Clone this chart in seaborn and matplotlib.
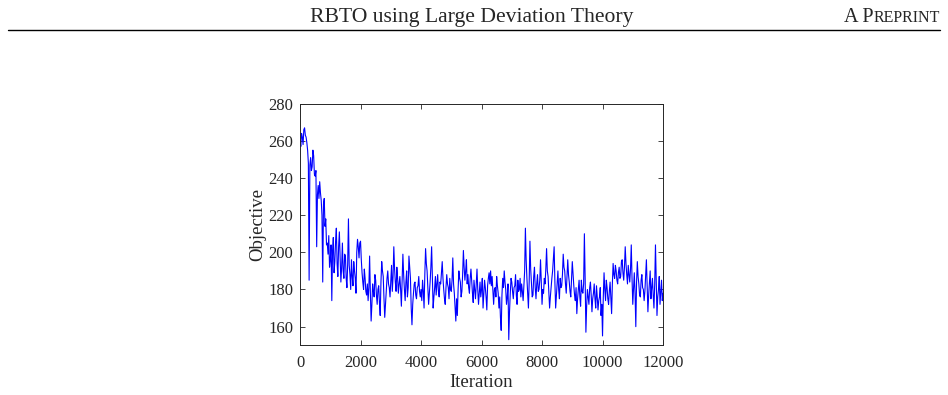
import numpy as np
import pandas as pd
import matplotlib
matplotlib.use("Agg")
import matplotlib.pyplot as plt
import seaborn as sns

# objective values, one every 25 iterations
obj_0_2000 = [260, 257, 264, 262, 258, 266, 267, 263, 262, 259,
              255, 248, 185, 247, 251, 244, 246, 255, 252, 242,
              241, 244, 203, 231, 236, 229, 238, 232, 228, 220,
              184, 226, 229, 214, 218, 204, 205, 199, 209, 192,
              196, 204, 174, 201, 208, 189, 195, 206, 213, 194,
              187, 203, 211, 197, 184, 192, 205, 190, 186, 199,
              198, 186, 181, 194, 218, 193, 188, 180, 196, 187,
              182, 195, 190, 186, 178, 200, 207, 203, 197, 205]
obj_2000_4000 = [206, 196, 189, 184, 180, 191, 186, 179, 177, 183,
                 174, 181, 198, 178, 163, 172, 183, 179, 176, 188,
                 185, 177, 172, 180, 182, 173, 166, 184, 195, 190,
                 187, 175, 165, 172, 178, 186, 190, 183, 181, 176,
                 185, 193, 179, 187, 203, 191, 184, 179, 192, 186,
                 178, 183, 187, 180, 171, 185, 199, 188, 180, 174,
                 184, 190, 176, 181, 198, 192, 186, 170, 161, 172,
                 178, 183, 184, 177, 175, 181, 182, 187, 179, 176]
obj_4000_6000 = [180, 174, 185, 179, 170, 188, 202, 194, 190, 181,
                 172, 178, 184, 192, 203, 186, 170, 176, 181, 187,
                 177, 183, 188, 179, 176, 184, 183, 189, 195, 186,
                 180, 175, 172, 181, 188, 183, 181, 175, 186, 180,
                 179, 185, 197, 183, 178, 170, 163, 175, 166, 180,
                 190, 186, 184, 176, 179, 188, 201, 192, 185, 190,
                 196, 183, 188, 181, 178, 186, 191, 184, 178, 173,
                 185, 180, 175, 183, 191, 180, 172, 178, 184, 176]
obj_6000_8000 = [180, 186, 170, 178, 185, 181, 176, 169, 182, 186,
                 189, 183, 190, 182, 187, 179, 172, 180, 181, 176,
                 187, 182, 178, 170, 176, 165, 158, 177, 186, 181,
                 190, 184, 180, 172, 176, 183, 153, 168, 178, 186,
                 184, 179, 175, 181, 182, 188, 177, 172, 185, 179,
                 180, 186, 176, 183, 179, 174, 182, 190, 213, 196,
                 186, 178, 170, 184, 206, 191, 184, 176, 177, 187,
                 192, 181, 175, 183, 188, 179, 180, 185, 196, 184]
obj_8000_10000 = [172, 180, 178, 186, 183, 191, 202, 190, 187, 178,
                  170, 176, 181, 186, 190, 197, 203, 184, 170, 177,
                  184, 190, 180, 175, 186, 181, 182, 188, 199, 192,
                  190, 183, 178, 187, 196, 188, 184, 179, 176, 185,
                  195, 188, 182, 177, 174, 181, 167, 175, 180, 185,
                  176, 171, 185, 179, 178, 183, 210, 186, 157, 171,
                  180, 176, 172, 181, 184, 177, 168, 175, 178, 183,
                  175, 170, 182, 176, 169, 174, 176, 181, 166, 172]
obj_10000_12000 = [155, 176, 189, 180, 174, 185, 181, 175, 172, 179,
                   184, 176, 167, 183, 194, 188, 186, 193, 190, 185,
                   183, 189, 192, 186, 187, 195, 196, 189, 185, 192,
                   203, 194, 188, 183, 193, 188, 184, 191, 204, 186,
                   172, 181, 189, 178, 160, 184, 195, 187, 183, 177,
                   176, 185, 188, 181, 180, 174, 179, 188, 196, 182,
                   168, 177, 184, 190, 175, 181, 186, 177, 170, 183,
                   204, 185, 166, 176, 180, 187, 172, 179, 185, 174,
                   178]

objective = (obj_0_2000 + obj_2000_4000 + obj_4000_6000 + obj_6000_8000
             + obj_8000_10000 + obj_10000_12000)
iteration = list(range(0, 12001, 25))

x_ticks = [0, 2000, 4000, 6000, 8000, 10000, 12000]
y_ticks = [160, 180, 200, 220, 240, 260, 280]

header_title = "RBTO using Large Deviation Theory"

df = pd.DataFrame({"Iteration": iteration, "Objective": objective})

sns.set_style("ticks")
plt.rcParams["font.family"] = ["Liberation Serif", "DejaVu Serif"]
plt.rcParams["xtick.direction"] = "in"
plt.rcParams["ytick.direction"] = "in"

fig = plt.figure(figsize=(9.48, 3.95), dpi=100)
ax = fig.add_axes([0.3165, 0.1260, 0.3829, 0.6115])

sns.lineplot(data=df, x="Iteration", y="Objective", color="#0000ff",
             linewidth=0.8, ax=ax)

ax.set_xlim(0, 12000)
ax.set_ylim(150, 280)
ax.set_xticks(x_ticks)
ax.set_yticks(y_ticks)
ax.tick_params(top=True, right=True, labelsize=12, length=3.5,
               width=0.6, color="#262626", labelcolor="#262626", pad=5)
ax.tick_params(axis="x", pad=7)
for s in ax.spines.values():
    s.set_visible(True)
    s.set_linewidth(0.7)
    s.set_color("#262626")
ax.set_xlabel("Iteration", fontsize=13.5, labelpad=2, color="#262626")
ax.set_ylabel("Objective", fontsize=13.5, labelpad=1, color="#262626")

# page header as in the paper
fig.text(0.498, 0.944, header_title, ha="center", va="baseline",
         fontsize=15.6)
fig.canvas.draw()
t2 = fig.text(0.9915, 0.944, "REPRINT", ha="right", va="baseline",
              fontsize=11.5)
fig.canvas.draw()
bb = t2.get_window_extent()
fig.text(bb.x0 / fig.bbox.width, 0.944, "A P", ha="right", va="baseline",
         fontsize=14.5)
fig.add_artist(plt.Line2D([0.008, 0.992], [0.925, 0.925], color="black",
                          linewidth=1.0, transform=fig.transFigure))

fig.savefig("out.png", dpi=100)
